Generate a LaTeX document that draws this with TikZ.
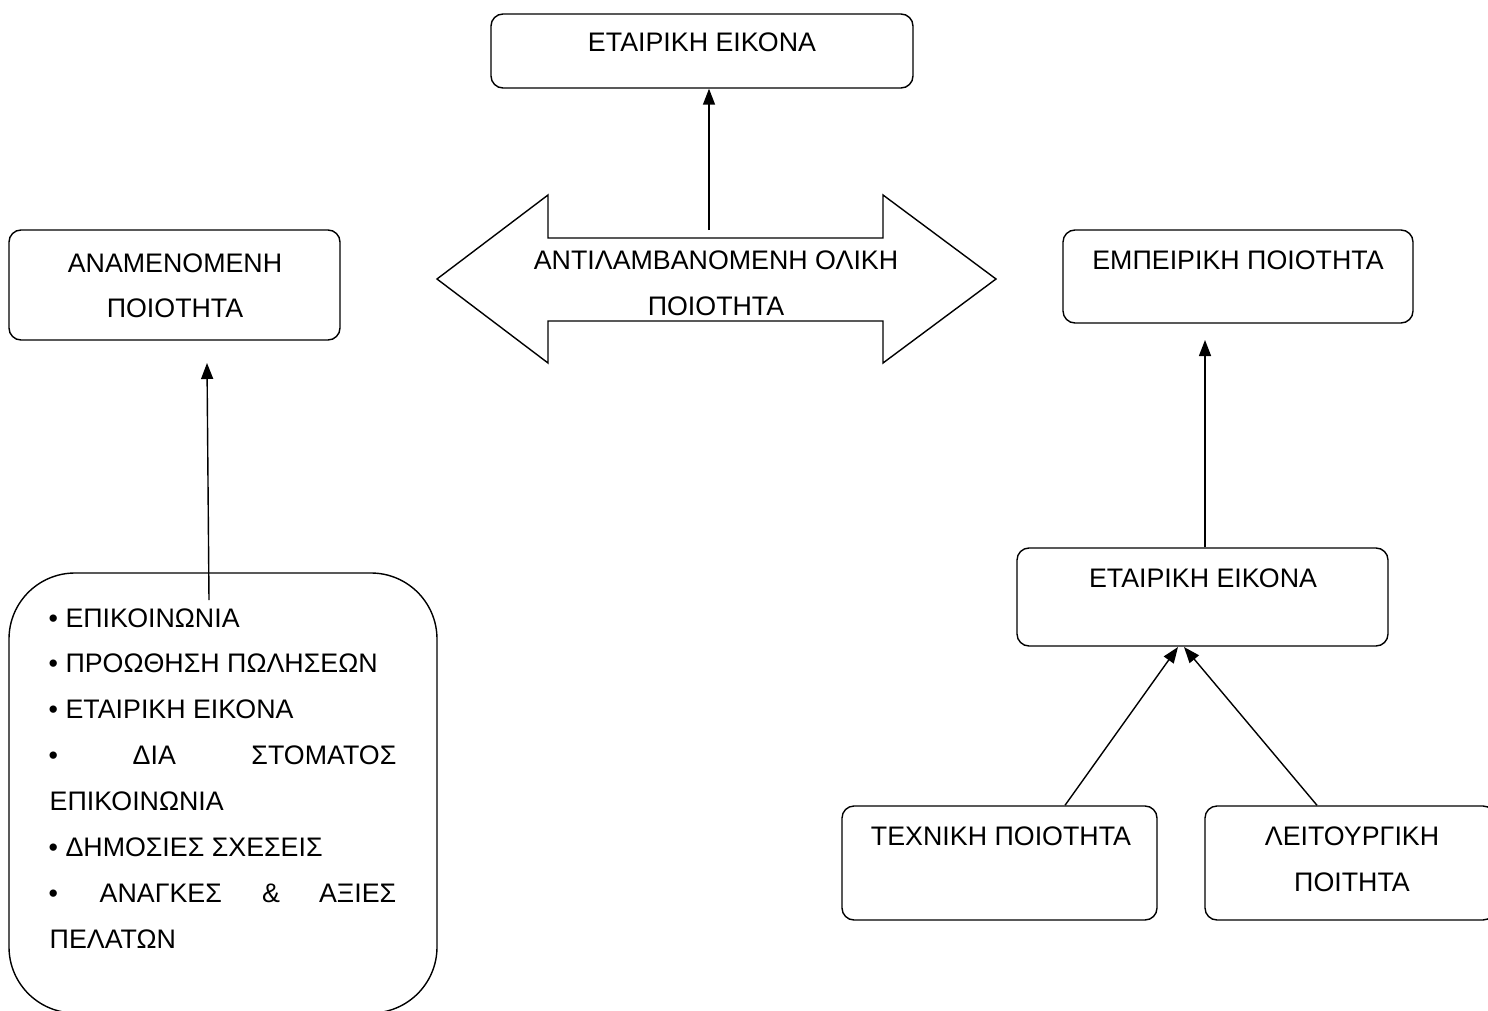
\documentclass[tikz,border=0pt]{standalone}
\usepackage{fontspec}
\setmainfont{Liberation Sans}
\usetikzlibrary{arrows.meta}
\begin{document}
\begin{tikzpicture}[x=1pt,y=-1pt,
  line width=1.4pt,
  box/.style={draw, rounded corners=12pt, inner sep=0pt},
  txt/.style={inner sep=0pt, anchor=base, font=\fontsize{26.8}{32}\selectfont},
  txtw/.style={txt, anchor=base west},
  txte/.style={txt, anchor=base east},
  link/.style={-{Triangle[width=12pt,length=16pt]}, line width=1.4pt}]
\useasboundingbox (0,0) rectangle (1488,1011);

% rounded boxes
\node[box, minimum width=422pt, minimum height=74pt] (image) at (702,51) {};
\node[box, minimum width=331pt, minimum height=110pt] (expected) at (174.5,285) {};
\node[box, minimum width=350pt, minimum height=93pt] (experienced) at (1238,276.5) {};
\node[box, minimum width=371pt, minimum height=98pt] (image2) at (1202.5,597) {};
\node[box, minimum width=315pt, minimum height=114pt] (technical) at (999.5,863) {};
\node[box, minimum width=290pt, minimum height=114pt] (functional) at (1350,863) {};

% tall list box, its lower edge just below the page
\draw[rounded corners=66pt] (9,573) rectangle (437,1013);
\coordinate (listtop) at (209,600);

% double-headed arrow
\draw[line join=miter] (437,279) -- (548,195) -- (548,238) -- (883,238) -- (883,195)
  -- (996,279) -- (883,363) -- (883,321) -- (548,321) -- (548,363) -- cycle;
\coordinate (overall) at (709,230);

% texts
\node[txt] (t1) at (702,52) {ΕΤΑΙΡΙΚΗ ΕΙΚΟΝΑ};
\node[txt] (t2a) at (716,269) {ΑΝΤΙΛΑΜΒΑΝΟΜΕΝΗ ΟΛΙΚΗ};
\node[txt] (t2b) at (716,315) {ΠΟΙΟΤΗΤΑ};
\node[txt] (t3a) at (175,272) {ΑΝΑΜΕΝΟΜΕΝΗ};
\node[txt] (t3b) at (175,317) {ΠΟΙΟΤΗΤΑ};
\node[txt] (t4) at (1238,269) {ΕΜΠΕΙΡΙΚΗ ΠΟΙΟΤΗΤΑ};
\node[txt] (t5) at (1203,587) {ΕΤΑΙΡΙΚΗ ΕΙΚΟΝΑ};
\node[txt] (t6) at (1001,845) {ΤΕΧΝΙΚΗ ΠΟΙΟΤΗΤΑ};
\node[txt] (t7a) at (1352,845) {ΛΕΙΤΟΥΡΓΙΚΗ};
\node[txt] (t7b) at (1352,891) {ΠΟΙΤΗΤΑ};

% bullet list
\node[txtw] (l1) at (48,627) {• ΕΠΙΚΟΙΝΩΝΙΑ};
\node[txtw] (l2) at (48,672) {• ΠΡΟΩΘΗΣΗ ΠΩΛΗΣΕΩΝ};
\node[txtw] (l3) at (48,718) {• ΕΤΑΙΡΙΚΗ ΕΙΚΟΝΑ};
\node[txtw] (l4a) at (48,764) {•};
\node[txtw] (l4b) at (132,764) {ΔΙΑ};
\node[txte] (l4c) at (397,764) {ΣΤΟΜΑΤΟΣ};
\node[txtw] (l5) at (49,810) {ΕΠΙΚΟΙΝΩΝΙΑ};
\node[txtw] (l6) at (48,856) {• ΔΗΜΟΣΙΕΣ ΣΧΕΣΕΙΣ};
\node[txtw] (l7a) at (48,902) {•};
\node[txtw] (l7b) at (99,902) {ΑΝΑΓΚΕΣ};
\node[txt] (l7c) at (271,902) {\&};
\node[txte] (l7d) at (397,902) {ΑΞΙΕΣ};
\node[txtw] (l8) at (49,948) {ΠΕΛΑΤΩΝ};

% connectors
\draw[link] (overall) -- (image.south -| overall);
\draw[link] (listtop) -- (207,363);
\draw[link] (image2.north -| 1205,0) -- (1205,340);
\draw[link] (technical.north -| 1065,0) -- (1178,647);
\draw[link] (functional.north -| 1317,0) -- (1184,647);
\end{tikzpicture}
\end{document}
